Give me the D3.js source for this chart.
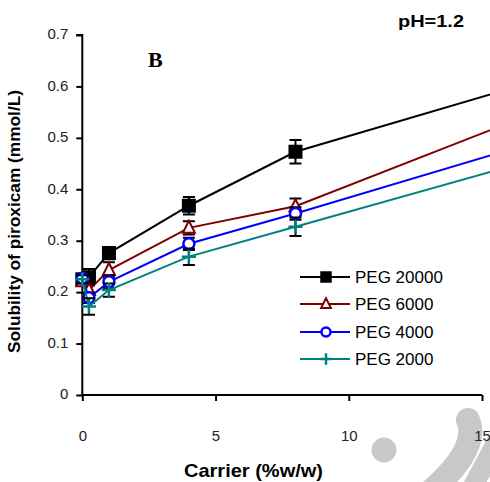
<!DOCTYPE html>
<html>
<head>
<meta charset="utf-8">
<script src="https://cdn.jsdelivr.net/npm/d3@7"></script>
<style>
  body { margin: 0; background: #fff; }
  svg { display: block; }
</style>
</head>
<body>
<div id="chart"></div>
<script>
// Data (last point lies off the right edge)
const carrier = [0, 0.25, 1, 4, 8, 20];
const peg20000 = [0.225, 0.229, 0.276, 0.368, 0.473, 0.656];
const peg6000  = [0.221, 0.204, 0.243, 0.325, 0.367, 0.610];
const peg4000  = [0.227, 0.189, 0.220, 0.294, 0.353, 0.538];
const peg2000  = [0.225, 0.172, 0.204, 0.269, 0.327, 0.502];
const err20000 = [0.006, 0.016, 0.012, 0.017, 0.023, 0];
const err6000  = [0.008, 0.012, 0.015, 0.013, 0.015, 0];
const err4000  = [0.008, 0.010, 0.012, 0.012, 0.012, 0];
const err2000  = [0.008, 0.016, 0.013, 0.016, 0.018, 0];
const seriesNames = ["PEG 20000", "PEG 6000", "PEG 4000", "PEG 2000"];
const xTicks = [0, 5, 10, 15];
const yTicks = [0, 0.1, 0.2, 0.3, 0.4, 0.5, 0.6, 0.7];

const width = 490;
const height = 482;

const series = [
  {name: seriesNames[0], values: peg20000, err: err20000, color: "#000000", marker: "square"},
  {name: seriesNames[1], values: peg6000,  err: err6000,  color: "#800000", marker: "triangle"},
  {name: seriesNames[2], values: peg4000,  err: err4000,  color: "#0000ff", marker: "circle"},
  {name: seriesNames[3], values: peg2000,  err: err2000,  color: "#008080", marker: "plus"}
];

const svg = d3.select("#chart")
  .append("svg")
    .attr("width", width)
    .attr("height", height);

/* scales */
const xScale = d3.scaleLinear().domain([0, 15]).range([82.3, 482]);
const yScale = d3.scaleLinear().domain([0, 0.7]).range([395, 35]);

/* watermark (light grey, behind everything) */
const wm = svg.append("g").attr("fill", "#c8c8c8").attr("stroke", "#c8c8c8");
wm.append("circle").attr("cx", 384).attr("cy", 450).attr("r", 12.5).attr("stroke", "none");
wm.append("path")
  .attr("d", "M468,420 Q480,448 430,492")
  .attr("fill", "none")
  .attr("stroke-width", 24)
  .attr("stroke-linecap", "round");
wm.append("path")
  .attr("d", "M495,445 L470,492")
  .attr("fill", "none")
  .attr("stroke-width", 20)
  .attr("stroke-linecap", "round");

/* axes */
const leftAxis = d3.axisLeft(yScale)
  .tickValues(yTicks)
  .tickSize(6)
  .tickPadding(8)
  .tickFormat(d => d === 0 ? "0" : d.toFixed(1));
const yAxisG = svg.append("g")
  .attr("transform", `translate(${xScale(0)}, 0)`)
  .call(leftAxis);

const bottomAxis = d3.axisBottom(xScale)
  .tickValues(xTicks)
  .tickSize(6)
  .tickPadding(29)
  .tickFormat(d3.format("d"));
const xAxisG = svg.append("g")
  .attr("transform", `translate(0, ${yScale(0)})`)
  .call(bottomAxis);

[yAxisG, xAxisG].forEach(g => {
  g.select(".domain").attr("stroke", "#000").attr("stroke-width", 2);
  g.selectAll(".tick line").attr("stroke", "#000").attr("stroke-width", 2);
  g.selectAll(".tick text")
    .attr("fill", "#222")
    .style("font-family", "'Liberation Sans', Arial, sans-serif")
    .style("font-size", "15px");
});
yAxisG.select(".domain").attr("d", `M-6,${yScale(0.7)}H0V${yScale(0)}`);
xAxisG.select(".domain").attr("d", `M${xScale(0)},0H${xScale(15)}`);
yAxisG.selectAll(".tick text").attr("dy", "0.25em");

/* markers */
const drawMarker = (g, type, color, x, y, s) => {
  if (type === "square") {
    g.append("rect")
      .attr("x", x - 7 * s).attr("y", y - 7 * s)
      .attr("width", 14 * s).attr("height", 14 * s)
      .attr("fill", color);
  } else if (type === "triangle") {
    g.append("path")
      .attr("d", `M${x},${y - 7 * s}L${x + 6 * s},${y + 5 * s}L${x - 6 * s},${y + 5 * s}Z`)
      .attr("fill", "#fff")
      .attr("stroke", color)
      .attr("stroke-width", 2);
  } else if (type === "circle") {
    g.append("circle")
      .attr("cx", x).attr("cy", y).attr("r", 5.5 * s)
      .attr("fill", "#fff")
      .attr("stroke", color)
      .attr("stroke-width", 2.5);
  } else {
    g.append("path")
      .attr("d", `M${x - 7 * s},${y}H${x + 7 * s}M${x},${y - 7 * s}V${y + 7 * s}`)
      .attr("stroke", color)
      .attr("stroke-width", 2.5);
  }
};

/* series: line, error bars, markers */
const plot = svg.append("g");
const lineGenerator = d3.line()
  .x(d => xScale(d.x))
  .y(d => yScale(d.y));

series.forEach(s => {
  const pts = carrier.map((c, i) => ({x: c, y: s.values[i], e: s.err[i]}));
  const g = plot.append("g");

  g.append("path")
    .attr("d", lineGenerator(pts))
    .attr("fill", "none")
    .attr("stroke", s.color)
    .attr("stroke-width", 2);

  // error bars
  pts.filter(p => p.e > 0).forEach(p => {
    const cx = xScale(p.x);
    const y1 = yScale(p.y + p.e);
    const y2 = yScale(p.y - p.e);
    g.append("path")
      .attr("d", `M${cx},${y1}V${y2}M${cx - 6},${y1}H${cx + 6}M${cx - 6},${y2}H${cx + 6}`)
      .attr("fill", "none")
      .attr("stroke", "#000")
      .attr("stroke-width", 2);
  });

  pts.forEach(p => drawMarker(g, s.marker, s.color, xScale(p.x), yScale(p.y), 1));
});

/* legend */
const legend = svg.append("g");
const legendRows = [277, 304, 332, 359];
series.forEach((s, i) => {
  const ly = legendRows[i];
  legend.append("line")
    .attr("x1", 300).attr("x2", 350)
    .attr("y1", ly).attr("y2", ly)
    .attr("stroke", s.color)
    .attr("stroke-width", 2);
  drawMarker(legend, s.marker, s.color, 326, ly, 0.82);
  legend.append("text")
    .text(s.name)
    .attr("x", 355)
    .attr("y", ly)
    .attr("dy", "0.35em")
    .style("font-family", "'Liberation Sans', Arial, sans-serif")
    .style("font-size", "17px")
    .attr("fill", "#000");
});

/* labels */
svg.append("text")
  .text("B")
  .attr("x", 148)
  .attr("y", 67)
  .style("font-family", "'Liberation Serif', 'Times New Roman', serif")
  .style("font-weight", "bold")
  .style("font-size", "22px");

svg.append("text")
  .text("pH=1.2")
  .attr("x", 398)
  .attr("y", 26.5)
  .attr("textLength", 66)
  .attr("lengthAdjust", "spacingAndGlyphs")
  .style("font-family", "'Liberation Sans', Arial, sans-serif")
  .style("font-weight", "bold")
  .style("font-size", "16px");

svg.append("text")
  .text("Solubility of piroxicam (mmol/L)")
  .attr("transform", "translate(20, 221.5) rotate(-90)")
  .attr("text-anchor", "middle")
  .attr("textLength", 263)
  .attr("lengthAdjust", "spacingAndGlyphs")
  .style("font-family", "'Liberation Sans', Arial, sans-serif")
  .style("font-weight", "bold")
  .style("font-size", "17px");

svg.append("text")
  .text("Carrier (%w/w)")
  .attr("x", 253.5)
  .attr("y", 477)
  .attr("text-anchor", "middle")
  .attr("textLength", 139)
  .attr("lengthAdjust", "spacingAndGlyphs")
  .style("font-family", "'Liberation Sans', Arial, sans-serif")
  .style("font-weight", "bold")
  .style("font-size", "19px");
</script>
</body>
</html>
